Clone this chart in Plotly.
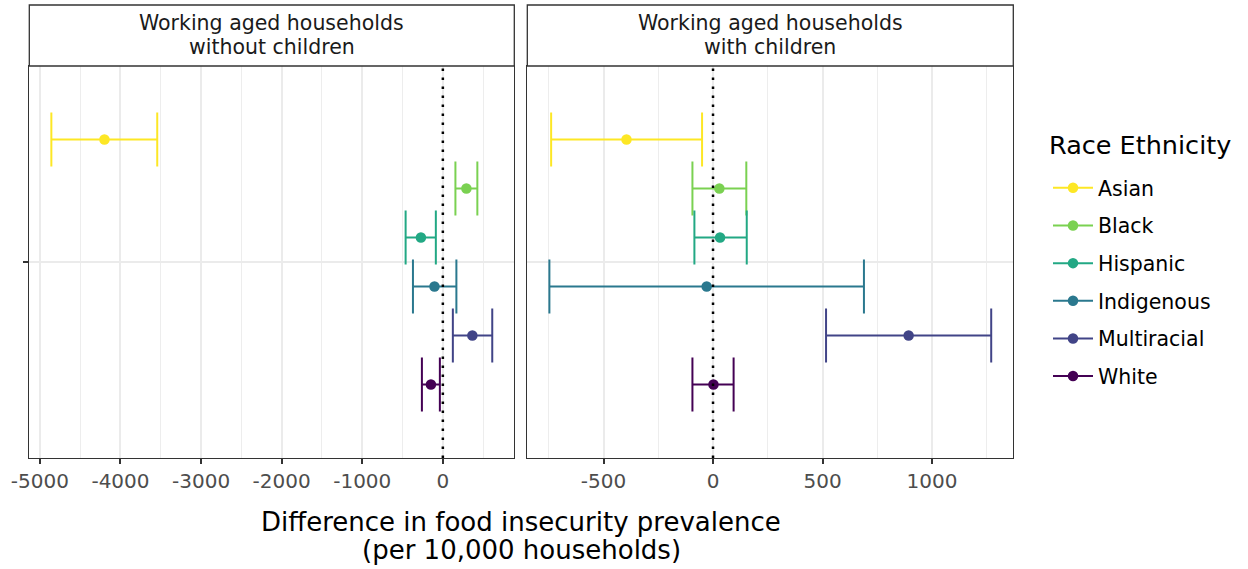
import plotly.graph_objects as go

races = ["Asian", "Black", "Hispanic", "Indigenous", "Multiracial", "White"]
colors = ["#FDE725", "#7AD151", "#22A884", "#2A788E", "#414487", "#440154"]

panels = [["Working aged households", "without children"],
          ["Working aged households", "with children"]]
x_title = ["Difference in food insecurity prevalence", "(per 10,000 households)"]

no_children_est = [-4199, 292, -272, -104, 366, -148]
no_children_lo = [-4858, 156, -462, -371, 124, -260]
no_children_hi = [-3544, 428, -87, 168, 613, -37]

with_children_est = [-395, 29, 32, -29, 893, 2]
with_children_lo = [-739, -94, -85, -747, 516, -94]
with_children_hi = [-50, 152, 154, 689, 1270, 94]

left_ticks = [-5000, -4000, -3000, -2000, -1000, 0]
left_minor = [-4500, -3500, -2500, -1500, -500, 500]
right_ticks = [-500, 0, 500, 1000]
right_minor = [-750, -250, 250, 750, 1250]

W, H = 1248, 569
FONT = "DejaVu Sans"

# layout in pixels
L1, R1 = 29.3, 514.3
L2, R2 = 527.3, 1013.3
TOP, BOT = 66, 458
STRIP_TOP = 5

def px_x(p):
    return p / W

def px_y(p):
    return 1 - p / H

def expand(lo, hi, m=0.05):
    d = hi - lo
    return [lo - m * d, hi + m * d]

fig = go.Figure()

data = [
    (no_children_est, no_children_lo, no_children_hi, "x", "y"),
    (with_children_est, with_children_lo, with_children_hi, "x2", "y2"),
]

n = len(races)
dodge = 0.9
for pi, (est, lo, hi, xa, ya) in enumerate(data):
    for i, r in enumerate(races):
        ypos = 1 + (((n - 1) / 2) - i) * dodge / n
        fig.add_trace(go.Scatter(
            x=[est[i]], y=[ypos], xaxis=xa, yaxis=ya,
            mode="lines+markers",
            name=r, legendgroup=r, showlegend=(pi == 0),
            marker=dict(color=colors[i], size=10.5),
            line=dict(color=colors[i], width=2),
            error_x=dict(type="data", symmetric=False,
                         array=[hi[i] - est[i]], arrayminus=[est[i] - lo[i]],
                         color=colors[i], thickness=2, width=27),
            hoverinfo="skip",
        ))

xr1 = expand(min(no_children_lo), max(no_children_hi))
xr2 = expand(min(with_children_lo), max(with_children_hi))

axis_common = dict(
    showline=True, mirror=True, linecolor="#333333", linewidth=1.3,
    gridcolor="#EBEBEB", gridwidth=1.8, zeroline=False, automargin=False,
    ticks="outside", ticklen=5, tickcolor="#333333", tickwidth=1.5,
    tickfont=dict(family=FONT, size=20, color="#4D4D4D"),
)

fig.update_layout(
    width=W, height=H,
    margin=dict(l=0, r=0, t=0, b=0),
    paper_bgcolor="white", plot_bgcolor="white",
    font=dict(family=FONT),
    xaxis=dict(domain=[px_x(L1), px_x(R1)], anchor="y", range=xr1,
               tickvals=left_ticks, ticktext=[str(t) for t in left_ticks],
               minor=dict(tickvals=left_minor, showgrid=True, gridcolor="#EDEDED", gridwidth=1.3, ticks=""),
               **axis_common),
    xaxis2=dict(domain=[px_x(L2), px_x(R2)], anchor="y2", range=xr2,
                tickvals=right_ticks, ticktext=[str(t) for t in right_ticks],
                minor=dict(tickvals=right_minor, showgrid=True, gridcolor="#EDEDED", gridwidth=1.3, ticks=""),
                **axis_common),
    yaxis=dict(domain=[px_y(BOT), px_y(TOP)], anchor="x", range=[0.4, 1.6],
               tickvals=[1], showticklabels=False,
               **{k: v for k, v in axis_common.items() if k != "tickfont"}),
    yaxis2=dict(domain=[px_y(BOT), px_y(TOP)], anchor="x2", range=[0.4, 1.6],
                tickvals=[1], showticklabels=False,
                **{k: v for k, v in axis_common.items() if k not in ("tickfont", "ticks", "ticklen")}),
    legend=dict(
        x=px_x(1048), y=px_y(168), xanchor="left", yanchor="top",
        font=dict(family=FONT, size=20.5, color="black"),
        tracegroupgap=8, itemwidth=40,
        bgcolor="rgba(0,0,0,0)",
    ),
)

# legend title
fig.add_annotation(xref="paper", yref="paper", x=px_x(1047), y=px_y(145),
                   text="Race Ethnicity", showarrow=False, xanchor="left", yanchor="middle",
                   font=dict(family=FONT, size=25.5, color="black"))

# zero reference lines
for xa, ya in [("x", "y"), ("x2", "y2")]:
    fig.add_shape(type="line", xref=xa, yref=f"{ya} domain", x0=0, x1=0, y0=0, y1=1,
                  line=dict(color="black", width=2.5, dash="2.5px,6.5px"), layer="above")

# strips
for (l, r), lines in zip([(L1, R1), (L2, R2)], panels):
    fig.add_shape(type="rect", xref="paper", yref="paper",
                  x0=px_x(l), x1=px_x(r), y0=px_y(TOP), y1=px_y(STRIP_TOP),
                  line=dict(color="#333333", width=1.3), fillcolor="white")
    for text, yc in zip(lines, [23, 47]):
        fig.add_annotation(xref="paper", yref="paper", x=px_x((l + r) / 2), y=px_y(yc),
                           text=text, showarrow=False, xanchor="center", yanchor="middle",
                           font=dict(family=FONT, size=20.5, color="#1A1A1A"))

# x axis title
for text, yc in zip(x_title, [522, 550]):
    fig.add_annotation(xref="paper", yref="paper", x=px_x((L1 + R2) / 2), y=px_y(yc),
                       text=text, showarrow=False, xanchor="center", yanchor="middle",
                       font=dict(family=FONT, size=26, color="black"))

fig.write_html("out.html")
